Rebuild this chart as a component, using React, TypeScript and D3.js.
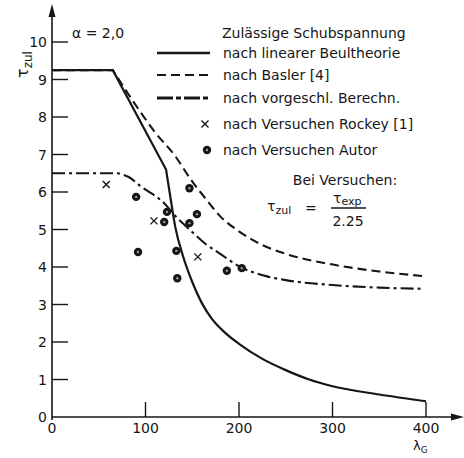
import React, { useEffect, useRef } from "react";
import * as d3 from "d3";

// axis ticks
const yTicks = [0, 1, 2, 3, 4, 5, 6, 7, 8, 9, 10];
const xTicks = [0, 100, 200, 300, 400];

// nach linearer Beultheorie: straight part, then the curved part
const beulStraight: [number, number][] = [[0, 9.25], [65, 9.25], [122, 6.6]];
const beulCurve: [number, number][] = [
  [122, 6.6], [127, 5.8], [132, 5.05], [140, 4.3], [150, 3.6], [160, 3.05],
  [170, 2.65], [185, 2.25], [200, 1.95], [225, 1.55], [250, 1.25], [275, 1.0],
  [300, 0.82], [350, 0.6], [400, 0.42],
];

// nach Basler [4]
const baslerFlat: [number, number][] = [[0, 9.25], [65, 9.25]];
const baslerCurve: [number, number][] = [
  [65, 9.25], [90, 8.3], [110, 7.6], [132, 6.95], [148, 6.35], [165, 5.8],
  [180, 5.35], [200, 4.95], [222, 4.62], [250, 4.35], [297, 4.08], [350, 3.88],
  [401, 3.75],
];

// nach vorgeschl. Berechn.
const vorFlat: [number, number][] = [[0, 6.5], [70, 6.5]];
const vorCurve: [number, number][] = [
  [70, 6.5], [82, 6.4], [95, 6.15], [120, 5.7], [133, 5.33], [145, 5.05],
  [165, 4.6], [180, 4.35], [200, 4.02], [230, 3.75], [250, 3.65], [300, 3.52],
  [350, 3.45], [396, 3.42],
];

// test points
const rockey: [number, number][] = [[58, 6.2], [109, 5.23], [156, 4.27]];
const autor: [number, number][] = [
  [90, 5.87], [147, 6.1], [155, 5.41], [123, 5.47], [120, 5.2], [147, 5.17],
  [92, 4.4], [133, 4.43], [134, 3.7], [187, 3.9], [203, 3.97],
];

const legendRows = [
  "nach linearer Beultheorie",
  "nach Basler [4]",
  "nach vorgeschl. Berechn.",
  "nach Versuchen Rockey [1]",
  "nach Versuchen Autor",
];

const INK = "#161616";
const FONT = "DejaVu Sans";

export default function App() {
  const ref = useRef<SVGSVGElement>(null);

  useEffect(() => {
    const svg = d3.select(ref.current);
    svg.selectAll("*").remove();

    const x = d3.scaleLinear().domain([0, 400]).range([52, 426]);
    const y = d3.scaleLinear().domain([0, 10]).range([417, 42]);

    const straight = d3.line<[number, number]>().x(d => x(d[0])).y(d => y(d[1]));
    const smooth = d3.line<[number, number]>().x(d => x(d[0])).y(d => y(d[1])).curve(d3.curveMonotoneX);
    const join = (a: [number, number][], b: [number, number][]) =>
      (straight(a) || "") + (smooth(b) || "").replace(/^M/, "L");

    // axes
    svg.append("line").attr("x1", x(0)).attr("x2", 454).attr("y1", y(0)).attr("y2", y(0))
      .attr("stroke", INK).attr("stroke-width", 1.6);
    svg.append("line").attr("x1", x(0)).attr("x2", x(0)).attr("y1", 420).attr("y2", 15)
      .attr("stroke", INK).attr("stroke-width", 1.6);
    svg.append("path").attr("d", `M${x(0)},4 L${x(0) - 3.5},17 L${x(0) + 3.5},17 Z`).attr("fill", INK);
    svg.append("path").attr("d", `M464,${y(0)} L451,${y(0) - 3.5} L451,${y(0) + 3.5} Z`).attr("fill", INK);

    // y ticks + labels
    yTicks.forEach(t => {
      if (t > 0) {
        svg.append("line").attr("x1", x(0)).attr("x2", x(0) + 16).attr("y1", y(t)).attr("y2", y(t))
          .attr("stroke", INK).attr("stroke-width", 1.4);
      }
      svg.append("text").attr("x", 47).attr("y", y(t) + 5).attr("text-anchor", "end")
        .attr("font-family", FONT).attr("font-size", 14).attr("fill", INK).text(t);
    });

    // x ticks + labels
    xTicks.forEach(t => {
      if (t > 0) {
        svg.append("line").attr("x1", x(t)).attr("x2", x(t)).attr("y1", y(0)).attr("y2", y(0) - 15)
          .attr("stroke", INK).attr("stroke-width", 1.4);
      }
      svg.append("text").attr("x", x(t)).attr("y", 433).attr("text-anchor", "middle")
        .attr("font-family", FONT).attr("font-size", 14).attr("fill", INK).text(t);
    });

    // axis titles
    const yl = svg.append("text").attr("transform", "translate(28,78) rotate(-90)")
      .attr("font-family", FONT).attr("font-size", 16).attr("fill", INK);
    yl.append("tspan").text("τ");
    yl.append("tspan").attr("dy", 4).attr("font-size", 12).text("zul");

    const xl = svg.append("text").attr("x", 413).attr("y", 450)
      .attr("font-family", FONT).attr("font-size", 13).attr("fill", INK);
    xl.append("tspan").text("λ");
    xl.append("tspan").attr("dy", 3).attr("font-size", 9).text("G");

    svg.append("text").attr("x", 72).attr("y", 38).attr("font-family", FONT).attr("font-size", 14)
      .attr("fill", INK).text("α = 2,0");

    // curves
    svg.append("path").attr("d", join(beulStraight, beulCurve)).attr("fill", "none")
      .attr("stroke", INK).attr("stroke-width", 2.2);
    svg.append("path").attr("d", join(baslerFlat, baslerCurve)).attr("fill", "none")
      .attr("stroke", INK).attr("stroke-width", 2.1).attr("stroke-dasharray", "9,5");
    svg.append("path").attr("d", join(vorFlat, vorCurve)).attr("fill", "none")
      .attr("stroke", INK).attr("stroke-width", 2.1).attr("stroke-dasharray", "13,4,3,4");

    // test points
    const cross = (g: d3.Selection<any, any, any, any>, cx: number, cy: number) => {
      g.append("path").attr("d", `M${cx - 3.5},${cy - 3.5} L${cx + 3.5},${cy + 3.5} M${cx + 3.5},${cy - 3.5} L${cx - 3.5},${cy + 3.5}`)
        .attr("stroke", INK).attr("stroke-width", 1.4).attr("fill", "none");
    };
    const dot = (g: d3.Selection<any, any, any, any>, cx: number, cy: number) => {
      g.append("circle").attr("cx", cx).attr("cy", cy).attr("r", 4.2).attr("fill", INK);
      g.append("circle").attr("cx", cx).attr("cy", cy).attr("r", 1.2).attr("fill", "#9a9a9a");
    };
    rockey.forEach(d => cross(svg, x(d[0]), y(d[1])));
    autor.forEach(d => dot(svg, x(d[0]), y(d[1])));

    // legend
    const lg = svg.append("g").attr("font-family", FONT).attr("font-size", 14).attr("fill", INK);
    lg.append("text").attr("x", 222).attr("y", 38).text("Zulässige Schubspannung");
    const rowY = [53, 75, 98, 124, 150];
    legendRows.forEach((r, i) => {
      lg.append("text").attr("x", 223).attr("y", rowY[i] + 5).text(r);
    });
    lg.append("line").attr("x1", 157).attr("x2", 210).attr("y1", rowY[0]).attr("y2", rowY[0])
      .attr("stroke", INK).attr("stroke-width", 2.6);
    lg.append("line").attr("x1", 157).attr("x2", 210).attr("y1", rowY[1]).attr("y2", rowY[1])
      .attr("stroke", INK).attr("stroke-width", 2.2).attr("stroke-dasharray", "9,5");
    lg.append("line").attr("x1", 157).attr("x2", 210).attr("y1", rowY[2]).attr("y2", rowY[2])
      .attr("stroke", INK).attr("stroke-width", 3).attr("stroke-dasharray", "16,3,5,3");
    cross(lg, 205, rowY[3]);
    dot(lg, 207, rowY[4]);

    // formula note
    const note = svg.append("g").attr("font-family", FONT).attr("fill", INK);
    note.append("text").attr("x", 345).attr("y", 185).attr("text-anchor", "middle")
      .attr("font-size", 14).text("Bei Versuchen:");
    const lhs = note.append("text").attr("x", 267).attr("y", 211).attr("font-size", 14);
    lhs.append("tspan").text("τ");
    lhs.append("tspan").attr("dy", 3).attr("font-size", 11).text("zul");
    note.append("text").attr("x", 305).attr("y", 213).attr("font-size", 14).text("=");
    note.append("line").attr("x1", 331).attr("x2", 366).attr("y1", 208).attr("y2", 208)
      .attr("stroke", INK).attr("stroke-width", 1.3);
    const num = note.append("text").attr("x", 333).attr("y", 203).attr("font-size", 14);
    num.append("tspan").text("τ");
    num.append("tspan").attr("dy", 2).attr("font-size", 11).text("exp");
    note.append("text").attr("x", 348).attr("y", 226).attr("text-anchor", "middle")
      .attr("font-size", 14).text("2.25");
  }, []);

  return (
    <svg ref={ref} width={464} height={458}
      style={{ position: "absolute", left: 0, top: 0, background: "#fff" }} />
  );
}
